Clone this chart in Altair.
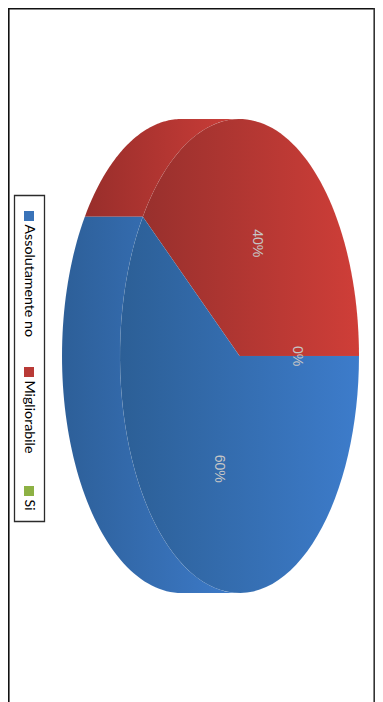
import math
import altair as alt
import pandas as pd

# --- values
categories = ["Assolutamente no", "Migliorabile", "Si"]
shares = [60, 40, 0]
labels = ["60%", "40%", "0%"]
swatch_colors = ["#3a73b8", "#b93a36", "#8db144"]

# --- layout (page pixels minus the page offset)
OX, OY = 8, 8
W, H = 367, 694
CX, CY, RX, RY = 239.5 - OX, 356.0 - OY, 119.5, 237.0
DEPTH = 58 / 119.5
label_radius_x = [0.555, 0.48, 0.48]
x_scale = alt.Scale(domain=[-CX / RX, (W - CX) / RX], range=[0, W], nice=False, zero=False)
y_scale = alt.Scale(domain=[(CY - H) / RY, CY / RY], range=[H, 0], nice=False, zero=False)
X = alt.X("u:Q", scale=x_scale, axis=None)
Y = alt.Y("v:Q", scale=y_scale, axis=None)


def grad(left, right):
    return alt.Gradient(
        gradient="linear", x1=0, y1=0, x2=1, y2=0,
        stops=[alt.GradientStop(color=left, offset=0), alt.GradientStop(color=right, offset=1)],
    )


def pts(a0, a1, off=0.0, n=70):
    return [
        (off + math.cos(math.radians(a0 + (a1 - a0) * k / n)),
         math.sin(math.radians(a0 + (a1 - a0) * k / n)))
        for k in range(n + 1)
    ]


def shape(points, left, right):
    rows = [{"u": u, "v": v, "i": i} for i, (u, v) in enumerate(points)]
    rows.append({"u": rows[0]["u"], "v": rows[0]["v"], "i": len(rows)})
    return (
        alt.Chart(pd.DataFrame(rows))
        .mark_line(fill=grad(left, right), filled=True, stroke="#ffffff", strokeOpacity=0.06, strokeWidth=0.5, interpolate="linear")
        .encode(x=X, y=Y, order="i:Q")
    )


red_end = 360 * shares[1] / sum(shares)     # 144 degrees: red from 0 to here
side_red = shape(pts(red_end, 90) + pts(90, red_end, -DEPTH), "#982e2b", "#cc3d38")
side_blue = shape(pts(red_end, 270) + pts(270, red_end, -DEPTH), "#2d5f98", "#3d7bca")
top_red = shape([(0, 0)] + pts(0, red_end), "#98302d", "#cf3e38")
top_blue = shape([(0, 0)] + pts(red_end, 360), "#2c5f96", "#3d7ccb")

# data labels, placed at the middle angle of each slice
label_rows = []
start = {0: red_end, 1: 0, 2: 360}
for i, lab in enumerate(labels):
    mid = start[i] + 360 * shares[i] / sum(shares) / 2
    label_rows.append({"u": label_radius_x[i] * math.cos(math.radians(mid)), "v": 0.5 * math.sin(math.radians(mid)), "t": lab})
data_labels = (
    alt.Chart(pd.DataFrame(label_rows))
    .mark_text(angle=90, font="Liberation Sans", fontSize=14, color="#c6c6c6", align="center", baseline="middle")
    .encode(x=X, y=Y, text="t:N")
)

# frame and hand-built rotated legend
one = pd.DataFrame({"a": [0]})
frame = [
    alt.Chart(one).mark_rule(color="#111111", strokeWidth=1.6).encode(x=alt.value(0), x2=alt.value(W), y=alt.value(0.8)),
    alt.Chart(one).mark_rule(color="#111111", strokeWidth=1.6).encode(x=alt.value(0.8), y=alt.value(0), y2=alt.value(H)),
    alt.Chart(one).mark_rule(color="#333333", strokeWidth=1.6).encode(x=alt.value(W - 0.8), y=alt.value(0), y2=alt.value(H)),
]
legend_box = (
    alt.Chart(one)
    .mark_rect(fill="#ffffff", stroke="#2b2b2b", strokeWidth=1.3)
    .encode(x=alt.value(14.5 - OX), x2=alt.value(44.5 - OX), y=alt.value(195.5 - OY), y2=alt.value(521.5 - OY))
)
legend_y = [211, 367, 486]
legend = []
for name, col, y0 in zip(categories, swatch_colors, legend_y):
    rec = pd.DataFrame({"t": [name]})
    legend.append(
        alt.Chart(rec).mark_rect(fill=col).encode(x=alt.value(24 - OX), x2=alt.value(34 - OX), y=alt.value(y0 - OY), y2=alt.value(y0 + 10 - OY))
    )
    legend.append(
        alt.Chart(rec)
        .mark_text(angle=90, font="Lato", fontSize=14.2, color="#000000", align="left", baseline="middle")
        .encode(x=alt.value(29 - OX), y=alt.value(y0 + 13.5 - OY), text="t:N")
    )

chart = alt.layer(
    *frame, side_red, side_blue, top_red, top_blue, data_labels, legend_box, *legend
).properties(
    width=W, height=H, padding=0, autosize=alt.AutoSizeParams(type="none"), background="#ffffff"
).configure_view(stroke=None)

chart.save("out.html", embed_options={"renderer": "svg", "actions": False})
